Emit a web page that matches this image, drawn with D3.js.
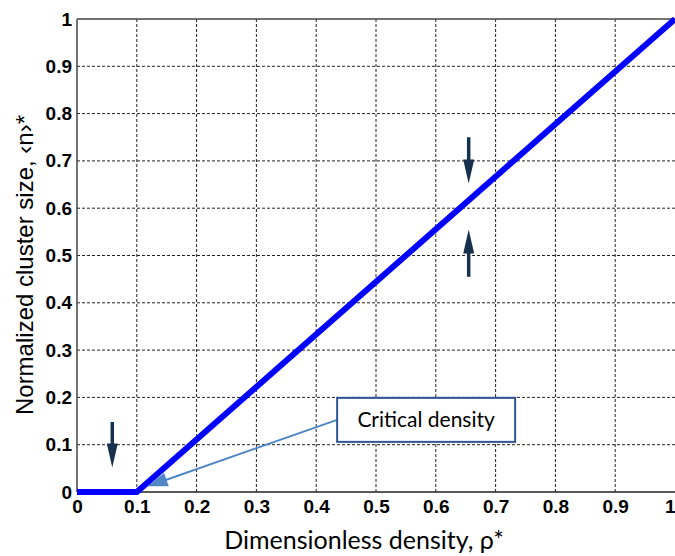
<!DOCTYPE html>
<html>
<head>
<meta charset="utf-8">
<script src="https://cdn.jsdelivr.net/npm/d3@7"></script>
<style>
  body { margin: 0; background: #fff; }
</style>
</head>
<body>
<div id="chart"></div>
<script>
// data: cluster size is zero below the critical density, then linear
const rhoValues = [0, 0.1, 1.0];
const sizeValues = [0, 0, 1.0];
const xTicks = [0, 0.1, 0.2, 0.3, 0.4, 0.5, 0.6, 0.7, 0.8, 0.9, 1];
const yTicks = [0, 0.1, 0.2, 0.3, 0.4, 0.5, 0.6, 0.7, 0.8, 0.9, 1];
// arrows marking the line (x position, y start, y end in data units)
const arrowX = [0.059, 0.655, 0.655];
const arrowFrom = [0.148, 0.75, 0.455];
const arrowTo = [0.052, 0.652, 0.555];
const calloutText = "Critical density";
const calloutAnchor = [0.118, 0.012];
const calloutBox = [0.435, 0.199];

const W = 675, H = 556;
const margin = { top: 19, left: 77 };
const width = 598, height = 473;

const svg = d3.select("#chart").append("svg")
    .attr("width", W)
    .attr("height", H);

const g = svg.append("g")
    .attr("transform", `translate(${margin.left},${margin.top})`);

const x = d3.scaleLinear().domain([0, 1]).range([0, width]);
const y = d3.scaleLinear().domain([0, 1]).range([height, 0]);

// grid
g.append("g").selectAll("line")
    .data(xTicks.slice(1, -1))
    .enter().append("line")
    .attr("x1", d => x(d)).attr("x2", d => x(d))
    .attr("y1", 0).attr("y2", height)
    .attr("stroke", "#222").attr("stroke-width", 1)
    .attr("stroke-dasharray", "3,2");
g.append("g").selectAll("line")
    .data(yTicks.slice(1, -1))
    .enter().append("line")
    .attr("x1", 0).attr("x2", width)
    .attr("y1", d => y(d)).attr("y2", d => y(d))
    .attr("stroke", "#222").attr("stroke-width", 1)
    .attr("stroke-dasharray", "3,2");

// frame (left, bottom, top)
g.append("line").attr("x1", 0).attr("x2", width).attr("y1", 0).attr("y2", 0)
    .attr("stroke", "#444").attr("stroke-width", 1.5);
g.append("line").attr("x1", 0).attr("x2", width).attr("y1", height).attr("y2", height)
    .attr("stroke", "#222").attr("stroke-width", 1.5);
g.append("line").attr("x1", 0).attr("x2", 0).attr("y1", 0).attr("y2", height)
    .attr("stroke", "#444").attr("stroke-width", 1.5);

// axes
const xAxis = g.append("g")
    .attr("transform", `translate(0,${height})`)
    .call(d3.axisBottom(x).tickValues(xTicks).tickSize(0).tickPadding(8).tickFormat(d3.format("")));
const yAxis = g.append("g")
    .call(d3.axisLeft(y).tickValues(yTicks).tickSize(0).tickPadding(5).tickFormat(d3.format("")));
[xAxis, yAxis].forEach(a => {
    a.select(".domain").remove();
    a.attr("font-size", null).attr("font-family", null);
    a.selectAll("text")
        .style("font-family", "'Liberation Sans', Arial, sans-serif")
        .style("font-size", "19px")
        .style("font-weight", "bold")
        .attr("fill", "#000");
});
// last x label sits at the very edge of the page
xAxis.selectAll("text").filter(d => d === 1).attr("text-anchor", "end");

// the data line
const line = d3.line().x((d, i) => x(rhoValues[i])).y(d => y(d));
g.append("path")
    .datum(sizeValues)
    .attr("d", line)
    .attr("fill", "none")
    .attr("stroke", "#0000ff")
    .attr("stroke-width", 6);

// dark arrows
arrowX.forEach((ax, i) => {
    const y0 = y(arrowFrom[i]), y1 = y(arrowTo[i]);
    const dir = y1 > y0 ? 1 : -1;
    g.append("line")
        .attr("x1", x(ax)).attr("x2", x(ax))
        .attr("y1", y0).attr("y2", y1 - dir * 20)
        .attr("stroke", "#17304d").attr("stroke-width", 3.5);
    g.append("path")
        .attr("d", `M${x(ax) - 5.5},${y1 - dir * 24} L${x(ax) + 5.5},${y1 - dir * 24} L${x(ax)},${y1} Z`)
        .attr("fill", "#17304d");
});

// callout
const bx = x(calloutBox[0]), by = y(calloutBox[1]);
const bw = 178, bh = 44;
const ax0 = x(calloutAnchor[0]), ay0 = y(calloutAnchor[1]);
const lx = bx, ly = by + bh / 2;
const ang = Math.atan2(ay0 - ly, ax0 - lx);
g.append("line")
    .attr("x1", lx).attr("y1", ly)
    .attr("x2", ax0 - Math.cos(ang) * 14).attr("y2", ay0 - Math.sin(ang) * 14)
    .attr("stroke", "#4f86c6").attr("stroke-width", 2);
const px = -Math.sin(ang), py = Math.cos(ang);
const bxh = ax0 - Math.cos(ang) * 20, byh = ay0 - Math.sin(ang) * 20;
g.append("path")
    .attr("d", `M${ax0},${ay0} L${bxh + px * 7},${byh + py * 7} L${bxh - px * 7},${byh - py * 7} Z`)
    .attr("fill", "#4f86c6");
g.append("rect")
    .attr("x", bx).attr("y", by)
    .attr("width", bw).attr("height", bh)
    .attr("fill", "#fff")
    .attr("stroke", "#2f5597").attr("stroke-width", 2);
g.append("text")
    .attr("x", bx + bw / 2).attr("y", by + bh / 2 + 7)
    .attr("text-anchor", "middle")
    .style("font-family", "Lato, 'Open Sans', sans-serif")
    .style("font-size", "21px")
    .attr("fill", "#000")
    .text(calloutText);

// axis titles
svg.append("text")
    .attr("x", 364).attr("y", 549)
    .attr("text-anchor", "middle")
    .style("font-family", "Lato, 'Open Sans', sans-serif")
    .style("font-size", "25px")
    .attr("fill", "#000")
    .text("Dimensionless density, \u03c1*");

svg.append("text")
    .attr("transform", "rotate(-90)")
    .attr("x", -265).attr("y", 33)
    .attr("text-anchor", "middle")
    .style("font-family", "'Liberation Sans', Arial, sans-serif")
    .style("font-size", "24px")
    .attr("fill", "#000")
    .text("Normalized cluster size, \u2039n\u203a*");
</script>
</body>
</html>
